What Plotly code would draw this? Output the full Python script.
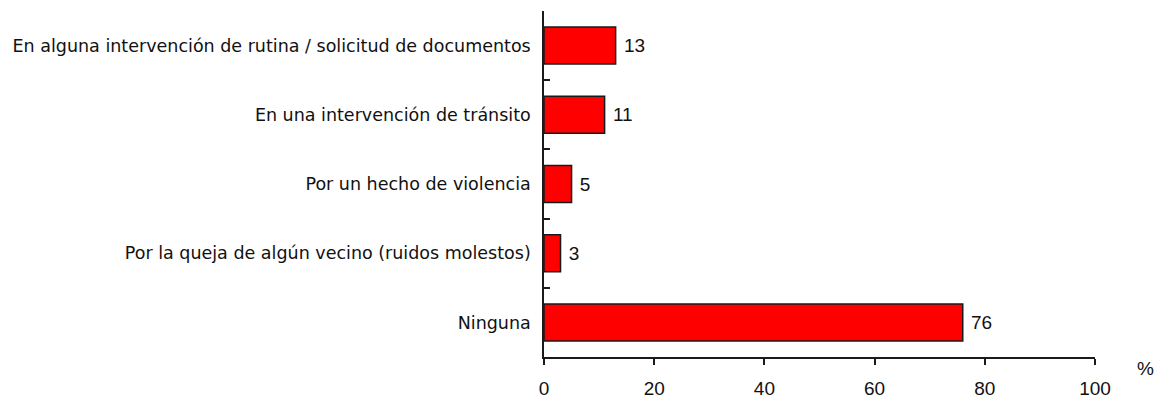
import plotly.graph_objects as go

# Survey answers and percentages (top to bottom)
categories = [
    "En alguna intervención de rutina / solicitud de documentos",
    "En una intervención de tránsito",
    "Por un hecho de violencia",
    "Por la queja de algún vecino (ruidos molestos)",
    "Ninguna",
]
values = [13, 11, 5, 3, 76]
x_ticks = [0, 20, 40, 60, 80, 100]

FONT = "Liberation Sans, Arial, sans-serif"
LABEL_FONT = "DejaVu Sans, sans-serif"
TEXT_COLOR = "#111111"

fig = go.Figure(
    go.Bar(
        x=values,
        y=categories,
        orientation="h",
        marker=dict(color="#FF0000", line=dict(color="#1a1a1a", width=1.5)),
        text=[f" {v}" for v in values],
        textposition="outside",
        textfont=dict(family=FONT, size=19, color=TEXT_COLOR),
        cliponaxis=False,
        hoverinfo="skip",
    )
)

fig.update_layout(
    width=1161,
    height=402,
    margin=dict(l=544, r=66, t=11, b=45),
    paper_bgcolor="white",
    plot_bgcolor="white",
    bargap=0.465,
    showlegend=False,
    font=dict(family=FONT, size=18, color=TEXT_COLOR),
)

fig.update_xaxes(
    range=[0, 100],
    tickvals=x_ticks,
    ticktext=[str(t) for t in x_ticks],
    showgrid=False,
    zeroline=False,
    showline=True,
    linecolor="#1a1a1a",
    linewidth=1.5,
    ticks="outside",
    ticklen=6,
    tickwidth=1.5,
    tickcolor="#1a1a1a",
    ticklabelstandoff=7,
    tickfont=dict(family=FONT, size=19, color=TEXT_COLOR),
    automargin=False,
    fixedrange=True,
)

fig.update_yaxes(
    categoryorder="array",
    categoryarray=categories,
    autorange="reversed",
    showgrid=False,
    zeroline=False,
    showline=True,
    linecolor="#1a1a1a",
    linewidth=1.5,
    ticks="inside",
    tickson="boundaries",
    ticklen=6,
    tickwidth=1.5,
    tickcolor="#1a1a1a",
    ticklabelstandoff=8,
    tickfont=dict(family=LABEL_FONT, size=17.5, color=TEXT_COLOR),
    automargin=False,
    fixedrange=True,
)

# Unit marker to the right of the value axis
fig.add_annotation(
    text="%",
    xref="paper",
    yref="paper",
    x=1.091,
    y=-0.032,
    xanchor="center",
    yanchor="middle",
    showarrow=False,
    font=dict(family=FONT, size=19, color=TEXT_COLOR),
)

fig.write_html("out.html", config={"displayModeBar": False})
